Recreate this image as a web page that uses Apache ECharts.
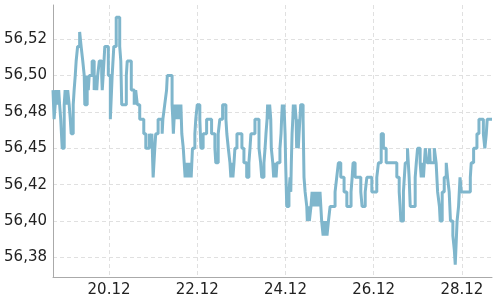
<!DOCTYPE html>
<html><head><meta charset="utf-8">
<script src="https://cdn.jsdelivr.net/npm/echarts@6/dist/echarts.min.js"></script>
<style>html,body{margin:0;padding:0;background:#fff}#c{width:500px;height:300px}</style>
</head><body><div id="c"></div>
<script>
// change points: hours since 18.12 00:00, and the rate from that moment on
const baseTime = Date.UTC(2023, 11, 18, 0, 0, 0);
const changeHours = [
 17.5,18.1,18.7,19.2,20.0,20.6,21.1,21.7,22.5,23.6,
 24.1,24.9,25.5,26.3,26.9,27.4,28.5,29.0,29.6,30.1,
 30.9,32.0,32.8,33.7,34.5,34.8,36.1,36.7,37.2,38.8,
 39.9,40.5,41.3,41.8,42.7,44.0,44.3,44.8,45.7,47.6,
 48.7,49.7,50.6,51.9,53.8,54.4,54.9,57.4,57.9,60.1,
 61.7,62.5,63.4,64.7,66.9,68.0,69.9,70.7,71.3,72.0,
 72.9,73.4,74.7,76.9,77.3,78.3,79.3,79.7,82.3,82.7,
 83.0,83.8,84.3,84.9,85.4,86.0,86.5,87.1,87.6,88.4,
 88.9,89.4,90.0,90.5,91.0,91.6,92.1,92.7,93.4,94.7,
 95.2,96.0,97.4,98.0,99.2,101.1,103.8,105.6,106.1,107.4,
 108.3,109.8,111.6,112.1,112.9,113.8,114.3,114.9,115.4,116.0,
 116.5,117.6,120.3,121.4,122.9,124.1,124.7,125.2,127.4,129.6,
 130.5,131.1,132.3,132.9,133.4,134.0,134.3,134.9,135.4,136.0,
 136.3,137.1,137.6,138.3,138.9,139.4,141.0,141.6,141.9,142.3,
 142.8,143.2,143.8,144.1,144.5,144.7,145.9,146.5,146.9,147.2,
 147.6,148.0,148.3,148.8,149.2,149.8,150.1,150.7,151.0,151.4,
 152.3,153.6,154.1,154.7,155.6,155.9,156.5,157.0,157.9,158.5,
 159.0,159.6,160.1,160.6,161.2,161.7,162.3,162.8,163.7,164.5,
 165.0,165.6,166.1,166.6,167.4,168.3,171.0,171.9,172.8,174.1,
 175.9,177.4,179.7,180.3,180.8,181.9,185.0,185.7,187.4,188.3,
 191.0,193.7,194.6,196.1,197.3,198.8,204.6,205.9,206.4,206.8,
 208.2,209.2,210.4,211.3,211.9,214.6,215.2,215.9,217.3,217.9,
 218.4,219.1,220.1,221.1,222.4,222.8,225.0,226.0,226.8,227.8,
 228.2,229.3,230.4,231.5,232.2,233.1,233.8,235.1,235.9,236.4,
 237.4,238.2,239.0,239.7,244.6,245.1,246.4,248.2,249.3,251.7,
 252.5,253.3,253.8,256.4
];
const rateValues = [
 56.49,56.47,56.48,56.49,56.48,56.49,56.48,56.47,56.45,56.48,
 56.49,56.48,56.49,56.48,56.47,56.46,56.48,56.49,56.50,56.51,
 56.52,56.53,56.52,56.51,56.50,56.48,56.50,56.49,56.50,56.51,
 56.49,56.50,56.49,56.50,56.51,56.50,56.49,56.50,56.52,56.50,
 56.47,56.50,56.52,56.54,56.52,56.51,56.48,56.50,56.51,56.49,
 56.48,56.49,56.48,56.47,56.46,56.45,56.46,56.45,56.46,56.43,
 56.45,56.46,56.47,56.46,56.47,56.48,56.49,56.50,56.48,56.47,
 56.46,56.48,56.47,56.48,56.47,56.48,56.47,56.48,56.46,56.45,
 56.44,56.43,56.44,56.43,56.44,56.43,56.44,56.43,56.45,56.46,
 56.47,56.48,56.47,56.45,56.46,56.47,56.46,56.45,56.44,56.46,
 56.47,56.48,56.47,56.46,56.45,56.44,56.43,56.44,56.43,56.44,
 56.45,56.46,56.45,56.44,56.43,56.44,56.45,56.46,56.47,56.45,
 56.44,56.43,56.44,56.45,56.46,56.47,56.48,56.47,56.48,56.47,
 56.45,56.44,56.43,56.44,56.43,56.44,56.45,56.46,56.47,56.48,
 56.47,56.48,56.46,56.44,56.42,56.41,56.42,56.43,56.42,56.44,
 56.46,56.47,56.48,56.47,56.48,56.47,56.45,56.47,56.45,56.46,
 56.48,56.47,56.43,56.42,56.41,56.40,56.41,56.40,56.41,56.42,
 56.41,56.42,56.41,56.42,56.41,56.42,56.41,56.42,56.40,56.39,
 56.40,56.39,56.40,56.39,56.40,56.41,56.42,56.43,56.44,56.43,
 56.42,56.41,56.42,56.43,56.44,56.43,56.42,56.41,56.42,56.43,
 56.42,56.43,56.44,56.46,56.45,56.44,56.43,56.42,56.41,56.40,
 56.42,56.44,56.45,56.43,56.41,56.43,56.44,56.45,56.44,56.43,
 56.44,56.43,56.45,56.44,56.45,56.44,56.45,56.44,56.42,56.41,
 56.40,56.42,56.43,56.44,56.43,56.42,56.40,56.39,56.38,56.37,
 56.40,56.41,56.43,56.42,56.43,56.44,56.45,56.46,56.47,56.46,
 56.45,56.46,56.47,56.47
];
const yTickValues = [56.375, 56.400, 56.425, 56.450, 56.475, 56.500, 56.525];
const yTickLabels = ['56,38', '56,40', '56,42', '56,45', '56,48', '56,50', '56,52'];
const xTickDates = [Date.UTC(2023,11,20), Date.UTC(2023,11,22), Date.UTC(2023,11,24), Date.UTC(2023,11,26), Date.UTC(2023,11,28)];
const xTickLabels = ['20.12', '22.12', '24.12', '26.12', '28.12'];

const hourMs = 3600000;
const seriesData = rateValues.map((v, i) => [baseTime + changeHours[i] * hourMs, v]);
function lookup(vals, labels, v) {
  let best = 0, bd = Infinity;
  for (let i = 0; i < vals.length; i++) { const d = Math.abs(vals[i] - v); if (d < bd) { bd = d; best = i; } }
  return labels[best];
}
const gridLine = { show: true, lineStyle: { color: '#e0e0e0', width: 1, type: [4, 3] } };
const labelFont = { fontFamily: 'DejaVu Sans', fontSize: 15, color: '#222' };
const chart = echarts.init(document.getElementById('c'), null, { renderer: 'canvas' });
chart.setOption({
  animation: false,
  backgroundColor: '#fff',
  grid: { left: 53, right: 8, top: 5, bottom: 23, containLabel: false },
  xAxis: {
    type: 'value',
    min: 'dataMin',
    max: 'dataMax',
    axisLine: { show: true, lineStyle: { color: '#aaa', width: 1 } },
    axisTick: { show: false, customValues: xTickDates },
    axisLabel: Object.assign({ customValues: xTickDates, margin: 6,
      formatter: v => lookup(xTickDates, xTickLabels, v) }, labelFont),
    splitLine: gridLine
  },
  yAxis: {
    type: 'value',
    min: 56.3615,
    max: 56.5485,
    axisLine: { show: true, lineStyle: { color: '#aaa', width: 1 } },
    axisTick: { show: false, customValues: yTickValues },
    axisLabel: Object.assign({ customValues: yTickValues, margin: 6,
      formatter: v => lookup(yTickValues, yTickLabels, v) }, labelFont),
    splitLine: gridLine
  },
  series: [{
    type: 'line',
    step: 'end',
    data: seriesData,
    showSymbol: false,
    lineStyle: { color: '#7fb6cc', width: 3 },
    itemStyle: { color: '#7fb6cc' }
  }]
});
</script>
</body></html>
